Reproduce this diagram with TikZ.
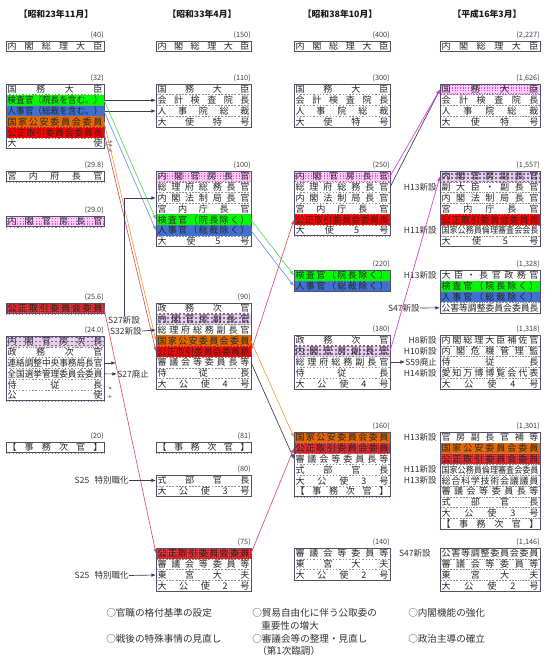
\documentclass[tikz,border=0pt]{standalone}
\usepackage{fontspec}
\setmainfont{Noto Sans CJK JP}
\usepackage{graphicx}
\usetikzlibrary{arrows.meta,patterns.meta}

\newsavebox\fitbox
\def\spreadchars#1{\spreadaux#1\spreadend}
\def\spreadaux#1#2\spreadend{#1\ifx\relax#2\relax\else\hfill\spreadaux#2\spreadend\fi}
\newcommand\fitspread[2]{\sbox\fitbox{#2}\ifdim\wd\fitbox>#1\relax\resizebox{#1}{\height}{#2}\else\hbox to #1{\spreadchars{#2}}\fi}
\newcommand\setcol[2]{\def\colW{#1}\def\txtW{#2}}
\newcommand\cfirst[4]{\node[cell,#3,minimum width=\colW] (#1) at #2 {\fitspread{\txtW}{#4}};}
\newcommand\cnext[4]{\node[cell,#3,minimum width=\colW] (#1) at (#2.south west) {\fitspread{\txtW}{#4}};}
\newcommand\frm[2]{\draw[frame] (#1.north west) rectangle (#2.south east);}
\newcommand\num[3]{\node[numlbl] (#1) at ([yshift=1pt]#2.north east) {#3};}

\definecolor{dkline}{RGB}{60,60,90}
\definecolor{frmcol}{RGB}{80,80,110}

\tikzset{
  cell/.style={draw=black!45, dotted, line width=0.45pt, inner sep=0pt, outer sep=0pt,
    minimum height=8.1pt, anchor=north west, text=black!85,
    font=\fontsize{6.8pt}{7pt}\selectfont},
  frame/.style={draw=frmcol, line width=0.7pt},
  numlbl/.style={anchor=south east, inner sep=0pt, text=black!75, font=\fontsize{5.5pt}{6pt}\selectfont},
  hdr/.style={inner sep=0pt, text=black!90, font=\fontsize{6.6pt}{7pt}\selectfont\bfseries},
  side/.style={inner sep=0pt, text=black!80, font=\fontsize{6.4pt}{7pt}\selectfont},
  leg/.style={anchor=west, inner sep=0pt, text=black!80, font=\fontsize{7.2pt}{8pt}\selectfont},
  fgreen/.style={fill={rgb,255:red,0;green,250;blue,0}},
  fblue/.style={fill={rgb,255:red,64;green,112;blue,208}},
  forange/.style={fill={rgb,255:red,226;green,104;blue,0}},
  fred/.style={fill={rgb,255:red,255;green,0;blue,0}},
  fcheck/.style={fill={rgb,255:red,205;green,30;blue,35},
    postaction={pattern={Dots[distance=1.6pt,radius=0.4pt]}, pattern color={rgb,255:red,255;green,110;blue,110}}},
  fpink/.style={preaction={fill={rgb,255:red,255;green,205;blue,250}}, pattern={Lines[angle=0,distance=2pt,line width=0.85pt]},
    pattern color={rgb,255:red,235;green,60;blue,225}},
  fpurple/.style={preaction={fill={rgb,255:red,225;green,210;blue,232}}, pattern={Lines[angle=90,distance=3pt,line width=1.1pt]},
    pattern color={rgb,255:red,145;green,90;blue,165}},
  arr/.style={-{Latex[length=3.4pt,width=2.6pt]}, line width=0.5pt},
  dk/.style={arr, draw=dkline},
  lgreen/.style={arr, draw={rgb,255:red,90;green,215;blue,90}},
  lblue/.style={arr, draw={rgb,255:red,110;green,150;blue,225}},
  lorange/.style={arr, draw={rgb,255:red,240;green,160;blue,60}},
  lred/.style={arr, draw={rgb,255:red,225;green,80;blue,100}},
  lmag/.style={arr, draw={rgb,255:red,220;green,60;blue,215}},
  stub/.style={-{Latex[length=2.4pt,width=2.2pt]}, line width=0.4pt, draw=black!45},
}

\begin{document}
\begin{tikzpicture}[x=0.75pt,y=-0.75pt]
\fill[white] (0,0) rectangle (553,656);
\useasboundingbox (0,0) rectangle (553,656);

% headers
\node[hdr] (h1) at (56,14) {【昭和23年11月】};
\node[hdr] (h2) at (202,14) {【昭和33年4月】};
\node[hdr] (h3) at (340,14) {【昭和38年10月】};
\node[hdr] (h4) at (487,14) {【平成16年3月】};

% ================= column 1 =================
\setcol{73.5pt}{71.25pt}
\cfirst{c1pm}{(6,41)}{}{内閣総理大臣}
\frm{c1pm}{c1pm}
\num{n1a}{c1pm}{(40)}

\cfirst{c1kokumu}{(6,84)}{}{国務大臣}
\cnext{c1kensa}{c1kokumu}{fgreen}{検査官（院長を含む。）}
\cnext{c1jinji}{c1kensa}{fblue}{人事官（総裁を含む。）}
\cnext{c1koan}{c1jinji}{forange}{国家公安委員会委員}
\cnext{c1kotori}{c1koan}{fred}{公正取引委員会委員長}
\cnext{c1taishi}{c1kotori}{}{大使}
\frm{c1kokumu}{c1taishi}
\num{n1b}{c1kokumu}{(32)}

\cfirst{c1kunai}{(6,171)}{}{宮内府長官}
\frm{c1kunai}{c1kunai}
\num{n1c}{c1kunai}{(29.8)}

\cfirst{c1kanbo}{(6,216)}{fpink}{内閣官房長官}
\frm{c1kanbo}{c1kanbo}
\num{n1d}{c1kanbo}{(29.0)}

\cfirst{c1kotoriin}{(6,303)}{fcheck}{公正取引委員会委員}
\frm{c1kotoriin}{c1kotoriin}
\num{n1e}{c1kotoriin}{(25.6)}

\cfirst{c1jicho}{(6,336)}{fpurple}{内閣官房次長}
\cnext{c1seimu}{c1jicho}{}{政務次官}
\cnext{c1renraku}{c1seimu}{}{連絡調整中央事務局長官}
\cnext{c1senkyo}{c1renraku}{}{全国選挙管理委員会委員}
\cnext{c1jiju}{c1senkyo}{}{侍従長}
\cnext{c1koshi}{c1jiju}{}{公使}
\frm{c1jicho}{c1koshi}
\num{n1f}{c1jicho}{(24.0)}

\cfirst{c1jimu}{(6,442)}{}{【事務次官】}
\frm{c1jimu}{c1jimu}
\num{n1g}{c1jimu}{(20)}

% ================= column 2 =================
\setcol{71.25pt}{69pt}
\cfirst{c2pm}{(156,41)}{}{内閣総理大臣}
\frm{c2pm}{c2pm}
\num{n2a}{c2pm}{(150)}

\cfirst{c2kokumu}{(156,84)}{}{国務大臣}
\cnext{c2kaikei}{c2kokumu}{}{会計検査院長}
\cnext{c2jinjiin}{c2kaikei}{}{人事院総裁}
\cnext{c2taishi}{c2jinjiin}{}{大使特号}
\frm{c2kokumu}{c2taishi}
\num{n2b}{c2kokumu}{(110)}

\cfirst{c2kanbo}{(156,171)}{fpink}{内閣官房長官}
\cnext{c2somu}{c2kanbo}{}{総理府総務長官}
\cnext{c2hosei}{c2somu}{}{内閣法制局長官}
\cnext{c2kunai}{c2hosei}{}{宮内庁長官}
\cnext{c2kensa}{c2kunai}{fgreen}{検査官（院長除く）}
\cnext{c2jinji}{c2kensa}{fblue}{人事官（総裁除く）}
\cnext{c2taishifive}{c2jinji}{}{大使5号}
\frm{c2kanbo}{c2taishifive}
\num{n2c}{c2kanbo}{(100)}

\cfirst{c2seimu}{(156,303)}{}{政務次官}
\cnext{c2fukukan}{c2seimu}{fpurple}{内閣官房副長官}
\cnext{c2fuku}{c2fukukan}{}{総理府総務副長官}
\cnext{c2koan}{c2fuku}{forange}{国家公安委員会委員}
\cnext{c2kotori}{c2koan}{fred}{公正取引委員会委員長}
\cnext{c2shingi}{c2kotori}{}{審議会等委員長等}
\cnext{c2jiju}{c2shingi}{}{侍従長}
\cnext{c2tkfour}{c2jiju}{}{大公使4号}
\frm{c2seimu}{c2tkfour}
\num{n2d}{c2seimu}{(90)}

\cfirst{c2jimu}{(156,442)}{}{【事務次官】}
\frm{c2jimu}{c2jimu}
\num{n2e}{c2jimu}{(81)}

\cfirst{c2shikibu}{(156,475)}{}{式部官長}
\cnext{c2tkthree}{c2shikibu}{}{大公使3号}
\frm{c2shikibu}{c2tkthree}
\num{n2f}{c2shikibu}{(80)}

\cfirst{c2kotoriin}{(156,548)}{fcheck}{公正取引委員会委員}
\cnext{c2shingiin}{c2kotoriin}{}{審議会等委員等}
\cnext{c2togu}{c2shingiin}{}{東宮大夫}
\cnext{c2tktwo}{c2togu}{}{大公使2号}
\frm{c2kotoriin}{c2tktwo}
\num{n2g}{c2kotoriin}{(75)}

% ================= column 3 =================
\setcol{72pt}{69.75pt}
\cfirst{c3pm}{(294,41)}{}{内閣総理大臣}
\frm{c3pm}{c3pm}
\num{n3a}{c3pm}{(400)}

\cfirst{c3kokumu}{(294,84)}{}{国務大臣}
\cnext{c3kaikei}{c3kokumu}{}{会計検査院長}
\cnext{c3jinjiin}{c3kaikei}{}{人事院総裁}
\cnext{c3taishi}{c3jinjiin}{}{大使特号}
\frm{c3kokumu}{c3taishi}
\num{n3b}{c3kokumu}{(300)}

\cfirst{c3kanbo}{(294,171)}{fpink}{内閣官房長官}
\cnext{c3somu}{c3kanbo}{}{総理府総務長官}
\cnext{c3hosei}{c3somu}{}{内閣法制局長官}
\cnext{c3kunai}{c3hosei}{}{宮内庁長官}
\cnext{c3kotori}{c3kunai}{fred}{公正取引委員会委員長}
\cnext{c3taishifive}{c3kotori}{}{大使5号}
\frm{c3kanbo}{c3taishifive}
\num{n3c}{c3kanbo}{(250)}

\cfirst{c3kensa}{(294,270)}{fgreen}{検査官（院長除く）}
\cnext{c3jinji}{c3kensa}{fblue}{人事官（総裁除く）}
\frm{c3kensa}{c3jinji}
\num{n3d}{c3kensa}{(220)}

\cfirst{c3seimu}{(294,335)}{}{政務次官}
\cnext{c3fukukan}{c3seimu}{fpurple}{内閣官房副長官}
\cnext{c3fuku}{c3fukukan}{}{総理府総務副長官}
\cnext{c3jiju}{c3fuku}{}{侍従長}
\cnext{c3tkfour}{c3jiju}{}{大公使4号}
\frm{c3seimu}{c3tkfour}
\num{n3e}{c3seimu}{(180)}

\cfirst{c3koan}{(294,432)}{forange}{国家公安委員会委員}
\cnext{c3kotoriin}{c3koan}{fcheck}{公正取引委員会委員}
\cnext{c3shingi}{c3kotoriin}{}{審議会等委員長等}
\cnext{c3shikibu}{c3shingi}{}{式部官長}
\cnext{c3tkthree}{c3shikibu}{}{大公使3号}
\cnext{c3jimu}{c3tkthree}{}{【事務次官】}
\frm{c3koan}{c3jimu}
\num{n3f}{c3koan}{(160)}

\cfirst{c3shingiin}{(294,548)}{}{審議会等委員等}
\cnext{c3togu}{c3shingiin}{}{東宮大夫}
\cnext{c3tktwo}{c3togu}{}{大公使2号}
\frm{c3shingiin}{c3tktwo}
\num{n3g}{c3shingiin}{(140)}

% ================= column 4 =================
\setcol{75pt}{72.75pt}
\cfirst{c4pm}{(440,41)}{}{内閣総理大臣}
\frm{c4pm}{c4pm}
\num{n4a}{c4pm}{(2,227)}

\cfirst{c4kokumu}{(440,84)}{fpink}{国務大臣}
\cnext{c4kaikei}{c4kokumu}{}{会計検査院長}
\cnext{c4jinjiin}{c4kaikei}{}{人事院総裁}
\cnext{c4taishi}{c4jinjiin}{}{大使特号}
\frm{c4kokumu}{c4taishi}
\num{n4b}{c4kokumu}{(1,626)}

\cfirst{c4fukukan}{(440,171)}{fpurple}{内閣官房副長官}
\cnext{c4fukudaijin}{c4fukukan}{}{副大臣・副長官}
\cnext{c4hosei}{c4fukudaijin}{}{内閣法制局長官}
\cnext{c4kunai}{c4hosei}{}{宮内庁長官}
\cnext{c4kotori}{c4kunai}{fred}{公正取引委員会委員長}
\cnext{c4rinri}{c4kotori}{}{国家公務員倫理審査会会長}
\cnext{c4taishifive}{c4rinri}{}{大使5号}
\frm{c4fukukan}{c4taishifive}
\num{n4c}{c4fukukan}{(1,557)}

\cfirst{c4seimukan}{(440,270)}{}{大臣・長官政務官}
\cnext{c4kensa}{c4seimukan}{fgreen}{検査官（院長除く）}
\cnext{c4jinji}{c4kensa}{fblue}{人事官（総裁除く）}
\cnext{c4kogai}{c4jinji}{}{公害等調整委員会委員長}
\frm{c4seimukan}{c4kogai}
\num{n4d}{c4seimukan}{(1,328)}

\cfirst{c4hosakan}{(440,335)}{}{内閣総理大臣補佐官}
\cnext{c4kiki}{c4hosakan}{}{内閣危機管理監}
\cnext{c4jiju}{c4kiki}{}{侍従長}
\cnext{c4banpaku}{c4jiju}{}{愛知万博博覧会代表}
\cnext{c4tkfour}{c4banpaku}{}{大公使4号}
\frm{c4hosakan}{c4tkfour}
\num{n4e}{c4hosakan}{(1,318)}

\cfirst{c4hosaho}{(440,432)}{}{官房副長官補等}
\cnext{c4koan}{c4hosaho}{forange}{国家公安委員会委員}
\cnext{c4kotoriin}{c4koan}{fcheck}{公正取引委員会委員}
\cnext{c4rinriin}{c4kotoriin}{}{国家公務員倫理審査会委員}
\cnext{c4sogo}{c4rinriin}{}{総合科学技術会議議員}
\cnext{c4shingi}{c4sogo}{}{審議会等委員長等}
\cnext{c4shikibu}{c4shingi}{}{式部官長}
\cnext{c4tkthree}{c4shikibu}{}{大公使3号}
\cnext{c4jimu}{c4tkthree}{}{【事務次官】}
\frm{c4hosaho}{c4jimu}
\num{n4f}{c4hosaho}{(1,301)}

\cfirst{c4kogaiin}{(440,548)}{}{公害等調整委員会委員}
\cnext{c4shingiin}{c4kogaiin}{}{審議会等委員等}
\cnext{c4togu}{c4shingiin}{}{東宮大夫}
\cnext{c4tktwo}{c4togu}{}{大公使2号}
\frm{c4kogaiin}{c4tktwo}
\num{n4g}{c4kogaiin}{(1,146)}

% ================= side labels =================
\node[side] (s27) at (124,320) {S27新設};
\node[side,anchor=east] (s32) at (142,331) {S32新設};
\node[side,anchor=west] (s27h) at (117,374) {S27廃止};
\node[side,anchor=east] (s25a) at (129,480.5) {S25\hspace{4pt}特別職化};
\node[side,anchor=east] (s25b) at (129,575.5) {S25\hspace{4pt}特別職化};
\node[side,anchor=west] (s59) at (405,362) {S59廃止};
\node[side,anchor=east] (la) at (437,187) {H13新設};
\node[side,anchor=east] (lb) at (437,230.5) {H11新設};
\node[side,anchor=east] (lc) at (437,275.5) {H13新設};
\node[side,anchor=east] (ld) at (420,308) {S47新設};
\node[side,anchor=east] (le) at (437,340.5) {H8新設};
\node[side,anchor=east] (lf) at (437,351.5) {H10新設};
\node[side,anchor=east] (lg) at (437,373) {H14新設};
\node[side,anchor=east] (lh) at (437,437.5) {H13新設};
\node[side,anchor=east] (li) at (437,469.5) {H11新設};
\node[side,anchor=east] (lj) at (437,480.5) {H13新設};
\node[side,anchor=east] (lk) at (431,553.5) {S47新設};

% ================= connectors =================
\draw[dk] (c1kensa.east) -- (c2kaikei.west);
\draw[dk] (c1jinji.east) -- (c2jinjiin.west);
\draw[lgreen] (c1kensa.east) -- (c2kensa.west);
\draw[lblue] (c1jinji.east) -- (c2jinji.west);
\draw[lorange] (c1koan.east) -- (c2koan.west);
\draw[lred] (c1kotori.east) -- (c2kotori.west);
\draw[lred] (c1kotoriin.east) -- (c2kotoriin.west);
\draw[dk] (s27.north) |- (c2hosei.west);
\draw[dk] (s32.east) -- (c2fuku.west);
\coordinate (renend) at (116,363);
\draw[dk] (c1renraku.east) -- (renend);
\draw[dk] (c1senkyo.east) -- (s27h.west);
\draw[dk] (s25a.east) -- (c2shikibu.west);
\draw[dk] (s25b.east) -- (c2togu.west);

\coordinate (ta) at (113,141);
\coordinate (tb) at (113,146);
\coordinate (tc) at (112,152);
\draw[stub] (c1taishi.east) -- (ta);
\draw[stub] (c1taishi.east) -- (tb);
\draw[stub] (c1taishi.east) -- (tc);
\coordinate (ja) at (112,389);
\coordinate (jb) at (112,397);
\draw[stub,dotted] (c1jiju.east) -- (ja);
\draw[stub,dotted] (c1koshi.east) -- (jb);

\draw[lgreen] (c2kensa.east) -- (c3kensa.west);
\draw[lblue] (c2jinji.east) -- (c3jinji.west);
\draw[lred] (c2kotori.east) -- (c3kotori.west);
\draw[lorange] (c2koan.east) -- (c3koan.west);
\draw[dk] (c2shingi.east) -- (c3shingi.west);
\draw[lred] (c2kotoriin.east) -- (c3kotoriin.west);

\draw[dk] (c3somu.east) -- (c4kokumu.west);
\draw[lmag] (c3kanbo.east) -- (c4kokumu.west);
\draw[lmag] (c3fukukan.east) -- (c4fukukan.west);
\draw[dk] (c3fuku.east) -- (s59.west);
\draw[dk] (ld.east) -- (c4kogai.west);

% ================= legend =================
\node[leg] (l1) at (106,613) {○官職の格付基準の設定};
\node[leg] (l2) at (106,639) {○戦後の特殊事情の見直し};
\node[leg] (l3) at (252,613) {○貿易自由化に伴う公取委の};
\node[leg] (l3b) at (261,626) {重要性の増大};
\node[leg] (l4) at (252,639) {○審議会等の整理・見直し};
\node[leg] (l4b) at (257,651) {（第1次臨調）};
\node[leg] (l5) at (408,613) {○内閣機能の強化};
\node[leg] (l6) at (408,639) {○政治主導の確立};
\end{tikzpicture}
\end{document}
